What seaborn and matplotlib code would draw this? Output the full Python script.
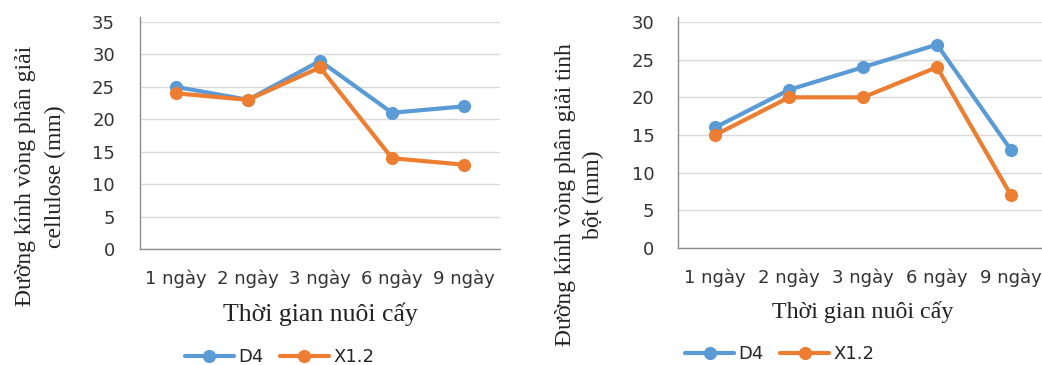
import numpy as np
import pandas as pd
import matplotlib
matplotlib.use("Agg")
import matplotlib.pyplot as plt
import seaborn as sns

# Culture time categories
days = ["1 ngày", "2 ngày", "3 ngày", "6 ngày", "9 ngày"]
strains = ["D4", "X1.2"]

# Cellulose hydrolysis zone diameter (mm)
cellulose_d4 = [25, 23, 29, 21, 22]
cellulose_x12 = [24, 23, 28, 14, 13]

# Starch hydrolysis zone diameter (mm)
starch_d4 = [16, 21, 24, 27, 13]
starch_x12 = [15, 20, 20, 24, 7]

ylabel_left = "Đường kính vòng phân giải\ncellulose (mm)"
ylabel_right = "Đường kính vòng phân giải tinh\nbột (mm)"
xlabel = "Thời gian nuôi cấy"


def long_form(a, b):
    return pd.DataFrame({
        "day": days * 2,
        "x": list(range(len(days))) * 2,
        "value": a + b,
        "strain": [strains[0]] * len(days) + [strains[1]] * len(days),
    })


sns.set_theme(style="white")
plt.rcParams["font.family"] = ["DejaVu Sans"]

palette = {"D4": "#5B9BD5", "X1.2": "#ED7D31"}
serif = ["Liberation Serif", "DejaVu Serif"]
text_color = "#333333"

fig = plt.figure(figsize=(10.42, 3.65), dpi=100)
ax1 = fig.add_axes([0.1344, 0.3178, 0.3455, 0.6219])
ax2 = fig.add_axes([0.6507, 0.3205, 0.3551, 0.6192])


def draw(ax, df, ymax, ylab, lab_xy, xlab_size, ylab_size, ypad, lsp,
         leg_anchor):
    sns.lineplot(data=df, x="x", y="value", hue="strain", palette=palette,
                 marker="o", markersize=9.5, markeredgewidth=0, linewidth=3.0,
                 ax=ax, legend=False)
    ax.set_xlim(-0.5, len(days) - 0.5)
    ax.set_ylim(0, ymax)
    ax.set_yticks(np.arange(0, ymax + 1, 5))
    ax.set_xticks(range(len(days)))
    ax.set_xticklabels(days)
    ax.tick_params(axis="both", labelsize=13, labelcolor=text_color)
    ax.tick_params(axis="x", length=0, pad=15)
    ax.tick_params(axis="y", length=4, width=1.0, color="#8C8C8C",
                   direction="out", pad=ypad)
    ax.grid(axis="y", color="#D9D9D9", linewidth=1.0)
    ax.set_axisbelow(True)
    for s in ["top", "right"]:
        ax.spines[s].set_visible(False)
    for s in ["left", "bottom"]:
        ax.spines[s].set_color("#8C8C8C")
        ax.spines[s].set_linewidth(1.0)
    ax.spines["left"].set_bounds(0, ymax * 1.02)
    ax.set_xlabel(xlabel, fontsize=xlab_size, family=serif, color="#222222",
                  labelpad=10)
    ax.set_ylabel(ylab, fontsize=ylab_size, family=serif, color="#222222",
                  linespacing=lsp)
    ax.yaxis.set_label_coords(*lab_xy)
    handles = [plt.Line2D([], [], color=palette[s], marker="o", markersize=9.5,
                          markeredgewidth=0, linewidth=3.0) for s in strains]
    ax.legend(handles, strains, loc="center left", bbox_to_anchor=leg_anchor,
              ncol=2, frameon=False, fontsize=13, handlelength=2.7,
              handletextpad=0.25, columnspacing=0.9, borderaxespad=0)


draw(ax1, long_form(cellulose_d4, cellulose_x12), 35, ylabel_left,
     (-0.205, 0.32), 18.5, 17, 14, 1.55, (0.105, -0.475))
draw(ax2, long_form(starch_d4, starch_x12), 30, ylabel_right,
     (-0.2, 0.235), 17.3, 17, 13, 1.45, (0.0, -0.47))

fig.savefig("out.png", dpi=100)
